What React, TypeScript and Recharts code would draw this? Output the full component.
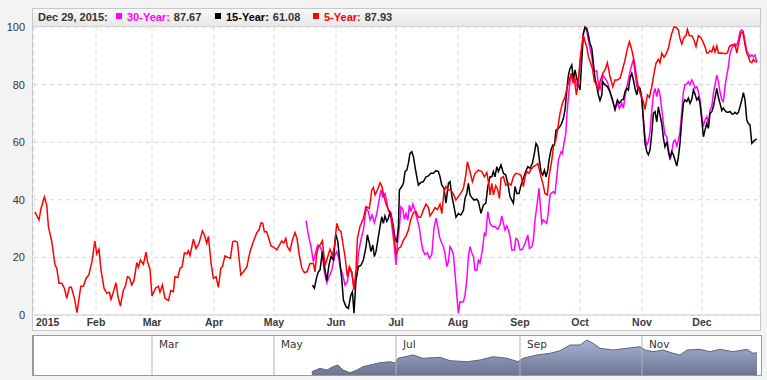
import React from 'react';
import { LineChart, Line, XAxis, YAxis, CartesianGrid, AreaChart, Area, ReferenceLine } from 'recharts';

// ---- axis data ----
const monthTickDays = [0, 31, 59, 90, 120, 151, 181, 212, 243, 273, 304, 334];
const monthTickLabels = ['2015', 'Feb', 'Mar', 'Apr', 'May', 'Jun', 'Jul', 'Aug', 'Sep', 'Oct', 'Nov', 'Dec'];
const yTicks = [0, 20, 40, 60, 80, 100];
const navMonthDays = [59, 120, 181, 243, 304];
const navMonthLabels = ['Mar', 'May', 'Jul', 'Sep', 'Nov'];

// ---- legend ----
const legendDate = 'Dec 29, 2015:';
const seriesNames = ['30-Year:', '15-Year:', '5-Year:'];
const seriesLast = ['87.67', '61.08', '87.93'];
const seriesColors = ['#ff00ff', '#000000', '#ff0000'];

// ---- 5-Year (red), day of year 2015 ----
const fiveYearDays = [0.5,2.5,3.5,5.2,6.4,7.2,8.9,10.5,11.4,12.5,13.9,15.2,16.4,17.7,18.7,20.2,21.5,23.4,24.7,26,27.4,29,30.4,31.4,32.5,33.5,35,36.4,37.7,38.5,39.7,41,42,43.2,44.7,45.7,46.7,47.7,48.9,50,51.4,52.2,53.2,54.7,56,56.7,58,59,60.7,62.2,63,64.2,65.5,67.2,68.4,69.7,70.5,71.9,73,74,75.2,76.4,77.2,78,79.7,81,82.5,84.2,85.2,86.4,87.2,88.5,89.7,91,92.2,93.4,94.2,95.5,96.9,98.2,99.4,100.5,101.7,103.4,104.7,106.4,108,109.7,111.4,112.5,113.5,114.4,115.2,116.4,117.5,118.5,119.7,121.4,122.5,123.9,124.9,125.9,126.7,128,129.2,130.5,131.5,132.5,133.9,135.2,136.5,138,139.7,140.5,141.4,142.2,143,144.2,145.5,146.9,148,149.2,150.2,151.4,152.5,153.5,154.7,155.5,156.7,157.7,158.9,160,161,161.7,163,164.7,166,167.7,168.9,169.7,170.5,171.7,173,174,175,176,177.2,178.4,179.7,181,182.2,183.4,184.7,186,187.2,188.4,189.7,191,192.2,193.4,194.7,196,197.2,198,199.4,200.5,201.7,203,203.9,205,206,207.2,208.4,209.7,210.9,212.2,213.4,214.7,215.9,216.7,218,219.2,220.5,222.2,223.9,225.2,226.4,227.5,228,228.9,229.7,230.9,231.9,232.7,233.5,234.7,235.9,237.2,238.5,239.7,240.9,242.2,243.5,244.7,245.5,246.4,247.5,248.5,249.7,250.9,251.9,252.7,253.5,254.4,255.5,256.7,257.5,258.9,259.7,260.9,261.9,263,264.2,265.5,266.7,267.7,268.5,269.4,270.2,271.2,272.2,273,273.9,274.7,275.5,276.4,277.2,278,279.2,280.2,281,282.2,283,284.4,285.5,286.7,288,289.4,290.5,291.7,293,294.4,295.5,296.7,297.7,298.9,300,301,302.2,303.4,304.7,305.5,306.7,307.7,308.9,310,311,312.2,313,313.9,315,316,317.2,318,318.9,320,321,322.2,323,323.9,325,326,326.7,327.7,328.9,330,331,332.2,333.4,334.4,335.5,336.4,337.2,338,338.9,339.7,340.5,341.4,342.2,343.4,344.4,345.5,346.7,347.7,348.9,349.7,350.5,351.4,352.2,353.4,354.4,355.5,356.4,357.2,358,358.9,359.7,360.5,361.4];
const fiveYearValues = [35.7,33,37,41,38,30.7,25.5,17.4,16.2,11,11,9.3,5.8,9.6,9.6,5.8,0.8,10,10,12.7,13.9,18.5,25.7,21.2,22.8,15.6,9.3,7.5,7.9,5.4,8.1,11.2,6.4,3.1,8.7,10,13.3,13,10.4,12,18.2,16.6,19.1,17.6,21.8,18.6,15.9,6.6,9.3,10,7.9,10.4,5.8,5,8.5,8.1,13.3,13,16.2,16.6,21.6,21.2,22.3,20.6,26.3,23.1,24.9,29.2,27.8,24.9,27.3,18.2,12.7,13.3,9.6,16.2,16.8,20.5,20,19.7,25.5,25.7,25.3,13.9,15,16.6,22,25.5,28.6,29.5,32,31.8,28.9,28.9,26.3,24,23.6,22.6,24,25.7,25,26.6,23.7,22.3,26,28.6,26.6,21.4,16.2,14.7,15,17.9,17.9,15,21.4,23.7,24.3,25.8,17,20.3,22.8,20.6,23.7,31.8,29.5,29,23.7,20.3,13.3,16.8,15,8.7,15.6,26.6,30.7,33.6,37.6,37,43.4,44.3,41.7,43.4,45.9,44.6,41.1,38.5,36.5,35.6,29.5,20.8,23.1,23.7,26,27.4,29.5,33.2,35.5,35.9,33.9,34,36.5,38.5,37.3,34.4,35.9,37.3,36.6,38.5,35.2,42.8,44.6,43.4,43.5,42,39.9,41.1,42.3,44,48.6,53.2,49.8,46.3,49.2,50.3,49.8,48,49.5,45.1,41.7,45.7,41.7,44.9,43.4,40.5,47.5,48,45.1,45.8,45.1,48,49.2,49,48.5,44.6,48,49.8,49.2,50.6,51.5,52,52.6,50.3,48,45.7,42.2,41.7,48,53.8,58.4,60.8,64.8,70,73.5,75.8,79.3,81.6,83.9,81,82,76.4,81,88.5,93.2,97.2,94.9,93,89.7,88,85.6,81,80.5,78.1,81,83.9,85.1,87.6,82.8,79.3,81.6,81.6,82.2,85.6,88.5,92.6,94.9,92,88.5,83.9,78.7,76.4,74.1,71.4,76.4,75.6,79.3,83.9,87.4,88.8,87.6,90.9,89.5,90.5,92.6,95.3,97.8,100,99.9,99,96,94.1,96.4,97,99.2,97,97,95.5,93.2,97,96.3,95,93.2,90.9,91,91.8,91.3,93.2,91.3,93.4,90.9,91,90.9,90.7,91,93.2,93.8,93.8,94.1,90.9,93.8,97.8,98.4,93.8,90.9,89.7,88,87.6,88.8,88,87.93];

// ---- 15-Year (black) ----
const fifteenYearDays = [139.2,140.2,141.4,142.2,143,144.2,145.2,146.4,147.5,148.5,149.7,150.9,151.9,153,153.9,154.7,156,157.2,158.4,159.2,160,161,162.2,163.4,164.7,166,166.7,167.7,168.5,169.4,170.2,171,172.2,173,173.9,174.7,175.5,176.4,177.2,178,178.9,179.7,180.5,181.4,182.2,182.7,183.9,184.7,185.5,186.4,187.2,188,188.9,189.7,190.5,191.4,192.2,193.4,194.7,196,197.2,198.4,199.7,201,202.2,203,203.9,205,206,207.2,208,209,210,211,212.2,213.4,214.7,215.5,216.4,217.2,218,219.2,220,221.4,222.2,223.5,224.7,225.9,226.9,228,228.9,229.7,230.5,231.4,232.2,233.5,234.7,235.9,237.2,238,238.9,239.7,240.5,241.4,242.5,243.5,244.7,245.9,246.9,248,249.2,250.2,251,251.9,252.7,253.5,254.4,255.2,256,256.9,257.5,258.5,259.4,260.2,261,262.2,263.5,264.7,265.5,266.4,267.2,268,268.9,269.7,270.5,271.4,272.2,273,273.9,274.7,275.5,276.4,277.2,278,278.9,279.7,280.5,281.4,282.2,283,283.9,284.4,285.5,286.7,288,289.4,290.5,291.7,292.7,293.9,294.7,295.5,296.4,297.2,298,298.9,299.7,300.5,301.4,302.2,303,303.9,304.7,305.5,306.4,307.2,308,308.9,309.7,310.5,311.4,312.2,313,313.9,314.7,315.5,316.4,317.2,318,318.9,319.7,320.5,321.4,322.2,323,323.9,324.7,325.5,326.4,327.2,328,328.9,329.7,330.5,331.4,332.2,333,333.9,334.7,335.5,336.4,337.2,338,338.9,339.7,340.5,341.4,342.2,343,343.9,344.7,345.5,346.4,347.2,348,348.9,349.7,350.5,351.4,352.2,353,353.9,354.7,355.5,356.4,357.2,358,358.9,359.7,360.5,361.4];
const fifteenYearValues = [10.4,9.3,13.3,15,15.6,22,17,11.9,17.4,20.3,19.1,28.1,25.5,18,12.2,5.2,2.9,2.3,6.9,8.1,0.6,12.2,16.8,17.2,19.1,23.7,27.8,24.9,22,24.3,20.3,22,27.2,30.7,34.1,31.8,34.4,32.5,33.6,35.9,33.6,30.7,26.6,25.5,30.7,43.4,44.6,45.7,49.8,50.3,52.7,56.1,56.7,55,51.5,48,45.1,46,46.3,48,48.3,49.2,49.2,50.1,49.8,48,45.1,44,38.8,45.7,46.3,41.1,37.6,33.9,35.2,34.7,36.3,40.5,42.2,45.7,41.7,40.5,39.9,40.2,39.4,35.3,38.2,38.8,44.6,48,48,49.8,48,51.5,49.8,52.1,49.2,48.6,44.6,41.1,39.9,38.8,44.6,42.2,42.2,45.1,47.5,49.8,51.5,50.9,52.7,56.1,59.6,58.4,53.8,49.8,48.6,50.3,48,50.3,53.8,57.3,59,59,64.2,64.8,66,68.3,71.2,78.1,83.3,85.6,86.8,81.6,85.1,82.2,79.9,78.1,88.5,97.8,99.9,99.5,97.2,94.3,92.6,87.4,82.2,79.3,76.4,74.5,76.4,81,79.9,79.3,77.5,74.1,71.4,74.7,73.5,74.7,74.9,77.5,78.7,78.1,82.2,83.9,81.6,78.7,76.4,79.3,78.7,75.6,67.7,59.6,56.7,55.6,57.3,63.1,70,70.6,67.1,72.3,69.4,66.5,61.4,58.4,60.2,56.7,54.4,56.7,55.6,53.8,51.7,55,59.6,67.7,73.5,74.7,74.1,75.3,73.5,74.9,78.1,76.7,74.7,75.6,73.5,67.7,61.9,64.2,66.5,64.8,70,70.6,72.3,75.3,78.7,75.6,73.5,71,71.9,71,70.4,70.4,70.7,69.8,69.8,70.4,69.8,70.4,72.3,74.7,77.2,74.7,67.7,66.5,66,59.6,60.2,60.8,61.08];

// ---- 30-Year (magenta) ----
const thirtyYearDays = [136,137.2,138.5,139.7,140.9,141.9,143,143.9,145.2,146.4,147.5,148.9,150.2,151.4,152.5,153,154.4,155.5,156.7,157.7,158.9,160,161.4,162.2,163.4,164.7,166,167.2,168,169,170.2,171.4,172.7,173.5,174.4,175.5,176.4,177.2,178,179.2,180.2,181,181.7,182.7,183.5,184.4,185.2,186,186.9,187.7,188.5,189.4,190.2,191,191.9,192.7,193.5,194.4,195.5,196.7,197.7,198.9,200,201,201.9,202.7,203.9,204.7,205.5,206.4,207.2,208,208.9,209.7,210.5,211.4,212.2,213,213.9,214.7,215.5,216.4,217.2,218,218.9,219.7,220.5,221.4,222.2,223,224.2,225.2,225.9,226.9,228,229.2,230.5,231.9,233,233.9,234.7,235.5,236.4,237.2,238,238.9,240.2,240.9,241.9,243,244.2,245.5,246.9,247.7,248.9,249.7,250.5,251.4,252.5,253.2,253.9,254.7,255.5,256.4,257.2,258,258.9,259.7,260.5,261.4,262.2,263,263.5,264.2,265,265.9,266.5,267.2,268,268.9,269.7,270.5,271.4,272.2,273,273.9,274.7,275.5,276.4,277.2,278,278.9,279.7,280.5,281.4,282.2,283,283.9,284.4,285.5,286.7,288,289.4,290.5,291.7,292.7,293.9,294.7,295.5,296.4,297.2,298,298.9,299.7,300.5,301.4,302.2,303,303.9,304.7,305.5,306.4,307.2,308,308.9,309.7,310.5,311.4,312.2,313,313.9,314.7,315.5,316.4,317.2,318,318.9,319.7,320.5,321.4,322.2,323,323.9,324.7,325.5,326.4,327.2,328,328.9,329.7,330.5,331.4,332.2,333,333.9,334.7,335.5,336.4,337.2,338,338.9,339.7,340.5,341.4,342.2,343,343.9,344.7,345.5,346.4,347.2,348,348.9,349.7,350.5,351.4,352.2,353,353.9,354.7,355.5,356.4,357.2,358,358.9,359.7,360.5,361.4];
const thirtyYearValues = [32.8,27.8,23.7,18.5,22,24.3,23.7,22.3,15,11.2,13.3,15.6,20.3,22,19.1,16.8,13.9,10.4,11.6,16.2,14.5,9.3,13.9,21.4,26,29.5,37,36,33,34.7,32,35.2,40.5,43.4,41.1,42.2,39.4,35.9,35.9,29.5,23.7,17.4,24.9,30.7,37.6,36.9,33.2,35.2,32.9,38.2,35.9,38.5,37,34.7,32.4,30.1,26,22.6,21,21.6,19.7,21,30.1,33.6,30.7,27.2,24.9,23.7,21.4,16.8,18.5,23.7,22.6,21,14.5,6.9,0.6,4.6,4.4,4.6,6.9,12.2,20.3,23.7,21.6,20.3,15.5,15.5,19,18,22.6,28.4,27.8,35.9,31.8,30.7,30.7,29.8,31.3,34.4,31.8,29.5,30.9,29.5,27.2,22.6,22.6,26.6,26,22.6,22.8,24.8,27.8,23.1,23.7,26,33,37.6,44,37.6,31.8,33,32.4,31.8,35.9,41.7,42.5,42.8,42.2,48,53.8,55.6,56.7,56.1,59.6,63.1,70,75.8,81,83.9,80.5,82.2,79.3,81.6,86.2,93.2,97.8,99.9,98.5,95.5,92.6,89.7,85.1,84.5,84.8,79.9,78.5,81,83.3,82.2,81,77.5,74.7,71.2,73.8,71.8,73.5,71.8,75.8,79.3,81.6,84.5,86.8,88.8,83.9,79.3,78.7,77.5,74.7,67.7,61.9,59,60.2,63.7,71.2,76.4,78.7,75.8,78.7,76.4,71.2,66.5,62.5,61.9,57.9,53.8,56.7,60.2,60.8,58.7,60.8,63.7,70.6,77.5,79.9,80.2,81,79.9,81.6,80.5,78.7,79.3,77.5,74.7,68.9,65.4,67.7,68.9,66.5,71.2,72.3,77,79.9,83.3,81,77.5,74.7,74.1,79.3,83.3,86.2,90.9,92.6,93.8,93.2,93.8,95.5,98.4,99,98.1,95,91.5,90.9,89.7,90.3,89.7,90.3,87.67];

// ---- navigator series ----
const navDays = [138.9,143,146.5,149.5,152,154.5,158,161.5,164.5,168,173,178,180.5,182,189.5,194.5,203,208,216.5,223,229.5,236.5,242,244.5,251.5,258,263,268,273,276.5,279.5,283,289.5,296.5,303,305.5,309.5,314.5,319.5,323,326.5,333,338,343,349.5,356.5,359.5,361.5];
const navValues = [3.3,6.7,5,8.3,10,5,2.3,5,8.3,10,12.3,13.3,12,16.7,20,16.7,17.7,14.3,13.3,15,18.3,16.7,13.3,16.7,20,21.7,24.3,30,30,35,31.7,26.7,25,26.7,28.3,25,23.3,25,21.7,20,25,25.7,23.3,25.7,23.3,25.7,21.7,22.3];

const zip = (days: number[], vals: number[]) => days.map((d, i) => ({ d, v: vals[i] }));

const FONT = '"Liberation Sans", Arial, sans-serif';

const MonthTick = (props: any) => {
  const { x, y, payload } = props;
  const idx = monthTickDays.indexOf(payload.value);
  const first = idx === 0;
  return (
    <text x={first ? x + 2 : x} y={y + 11} textAnchor={first ? 'start' : 'middle'}
      fontFamily={FONT} fontWeight="bold" fontSize={10.5} fill="#3a3a3a">
      {monthTickLabels[idx]}
    </text>
  );
};

const NavLabel = (props: any) => {
  const { viewBox, text } = props;
  return (
    <text x={viewBox.x + 7} y={viewBox.y + 12} fontFamily='"DejaVu Sans", Verdana, sans-serif' fontSize={10.5} fill="#333">
      {text}
    </text>
  );
};

export default function App() {
  const magenta = zip(thirtyYearDays, thirtyYearValues);
  const black = zip(fifteenYearDays, fifteenYearValues);
  const red = zip(fiveYearDays, fiveYearValues);
  const nav = zip(navDays, navValues);

  const legendSquareX = [116, 215, 313];

  return (
    <div style={{ position: 'absolute', left: 0, top: 0, width: 767, height: 380, background: '#f3f3f3', overflow: 'hidden' }}>
      {/* plot panel */}
      <div style={{ position: 'absolute', left: 32, top: 8, width: 727, height: 321, background: '#ffffff', border: '1px solid #c8c8c8' }} />
      {/* header bar */}
      <div style={{ position: 'absolute', left: 33, top: 9, width: 727, height: 17, background: 'linear-gradient(#f8f8f8, #e8e8e8)', borderBottom: '1px solid #d2d2d2' }} />

      <div style={{ position: 'absolute', left: 0, top: 0 }}>
        <LineChart width={767} height={332} margin={{ top: 27, right: 7, bottom: 0, left: 0 }}>
          <CartesianGrid strokeDasharray="4 4" stroke="#d6d6d6" />
          <XAxis type="number" dataKey="d" domain={[0, 363]} ticks={monthTickDays} interval={0}
            tick={<MonthTick />} tickLine={false} tickSize={0} tickMargin={0} height={17}
            axisLine={{ stroke: '#d0d0d0' }} allowDataOverflow />
          <YAxis type="number" domain={[0, 100]} ticks={yTicks} width={34} tickLine={false} axisLine={false}
            tickSize={0} tickMargin={9} interval={0}
            tick={{ fontSize: 11, fill: '#333', fontFamily: FONT }} />
          <Line data={magenta} dataKey="v" type="linear" stroke="#ff00ff" strokeWidth={1.5} dot={false} isAnimationActive={false} />
          <Line data={black} dataKey="v" type="linear" stroke="#000000" strokeWidth={1.5} dot={false} isAnimationActive={false} />
          <Line data={red} dataKey="v" type="linear" stroke="#ff0000" strokeWidth={1.5} dot={false} isAnimationActive={false} />
        </LineChart>
      </div>

      {/* legend text */}
      <svg width={767} height={30} style={{ position: 'absolute', left: 0, top: 0, pointerEvents: 'none' }}>
        <text x={38} y={21} fontFamily={FONT} fontWeight="bold" fontSize={11} fill="#333">{legendDate}</text>
        {legendSquareX.map((sx, i) => (
          <g key={i}>
            <rect x={sx} y={13} width={6} height={6} fill={seriesColors[i]} />
            <text x={sx + 11} y={21} fontFamily={FONT} fontWeight="bold" fontSize={11}>
              <tspan fill={seriesColors[i]}>{seriesNames[i]}</tspan>
              <tspan fill="#333" dx={4}>{seriesLast[i]}</tspan>
            </text>
          </g>
        ))}
      </svg>

      {/* navigator */}
      <div style={{ position: 'absolute', left: 32, top: 335, width: 727, height: 39, background: '#ffffff', border: '1px solid #9a9a9a', borderLeftWidth: 2 }} />
      <div style={{ position: 'absolute', left: 0, top: 336 }}>
        <AreaChart width={767} height={39} margin={{ top: 0, right: 7, bottom: 0, left: 34 }}>
          <defs>
            <linearGradient id="navGrad" x1="0" y1="0" x2="0" y2="1">
              <stop offset="0" stopColor="#a8b4d6" />
              <stop offset="1" stopColor="#6b7490" />
            </linearGradient>
          </defs>
          <XAxis type="number" dataKey="d" domain={[0, 363]} hide allowDataOverflow />
          <YAxis type="number" domain={[0, 39]} hide allowDataOverflow />
          {navMonthDays.map((d, i) => (
            <ReferenceLine key={d} x={d} stroke="#b4b4b4" strokeWidth={1} label={<NavLabel text={navMonthLabels[i]} />} />
          ))}
          <Area data={nav} dataKey="v" type="linear" stroke="#5e6478" strokeWidth={1} fill="url(#navGrad)" fillOpacity={1} isAnimationActive={false} />
        </AreaChart>
      </div>
    </div>
  );
}
